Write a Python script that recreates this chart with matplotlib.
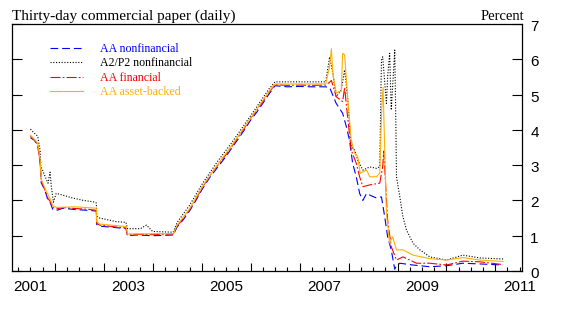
import matplotlib
matplotlib.use('Agg')
import matplotlib.pyplot as plt
import matplotlib.dates as mdates
import matplotlib.transforms as mtransforms
import pandas as pd

# values (percent)
nonfin_dates = ['2001-07-02', '2001-08-01', '2001-08-25', '2001-09-12', '2001-09-20', '2001-10-10',
                '2001-10-25', '2001-11-10', '2001-11-25', '2001-12-15', '2002-01-15', '2002-03-01',
                '2002-06-01', '2002-09-01', '2002-11-05', '2002-11-08', '2002-12-01', '2003-03-01',
                '2003-06-15', '2003-06-26', '2003-09-01', '2004-01-01', '2004-06-01', '2004-07-01',
                '2004-08-15', '2004-10-01', '2004-11-15', '2005-01-01', '2005-03-01', '2005-05-01',
                '2005-07-01', '2005-08-15', '2005-10-01', '2005-11-15', '2006-01-01', '2006-02-15',
                '2006-04-01', '2006-05-15', '2006-07-01', '2006-10-01', '2007-01-01', '2007-04-01',
                '2007-07-15', '2007-08-13', '2007-08-26', '2007-10-01', '2007-11-18', '2007-12-16',
                '2008-01-08', '2008-02-01', '2008-02-28', '2008-03-24', '2008-04-17', '2008-05-15',
                '2008-06-08', '2008-07-27', '2008-09-03', '2008-09-27', '2008-10-19', '2008-11-15',
                '2008-12-11', '2008-12-24', '2009-01-18', '2009-04-26', '2009-08-30', '2010-01-02',
                '2010-05-03', '2010-09-08', '2011-02-28']
nonfin_vals = [3.78, 3.70, 3.55, 3.05, 2.50, 2.35,
               2.20, 2.00, 1.95, 1.75, 1.72, 1.78,
               1.74, 1.72, 1.70, 1.32, 1.27, 1.24,
               1.20, 1.00, 1.02, 1.00, 1.02, 1.25,
               1.45, 1.70, 1.98, 2.30, 2.65, 2.95,
               3.25, 3.50, 3.75, 4.00, 4.28, 4.50,
               4.75, 5.00, 5.25, 5.22, 5.23, 5.22,
               5.22, 5.20, 5.08, 4.75, 4.47, 4.09,
               3.71, 3.05, 2.67, 2.20, 2.00, 2.20,
               2.15, 2.07, 2.10, 1.54, 0.97, 0.60,
               0.05, 0.15, 0.22, 0.17, 0.12, 0.15,
               0.22, 0.20, 0.17]

a2p2_dates = ['2001-07-02', '2001-08-01', '2001-08-25', '2001-09-12', '2001-09-17', '2001-10-01',
              '2001-10-20', '2001-11-10', '2001-11-25', '2001-12-05', '2001-12-20', '2002-01-10',
              '2002-03-01', '2002-05-01', '2002-08-01', '2002-10-15', '2002-11-05', '2002-11-10',
              '2002-12-01', '2003-02-01', '2003-04-01', '2003-06-15', '2003-06-26', '2003-10-01',
              '2003-11-15', '2003-12-31', '2004-06-01', '2004-07-01', '2004-10-01', '2005-01-01',
              '2005-05-01', '2005-08-15', '2005-11-15', '2006-02-15', '2006-05-15', '2006-07-01',
              '2007-07-15', '2007-08-13', '2007-09-06', '2007-10-01', '2007-11-08', '2007-12-03',
              '2007-12-25', '2008-01-21', '2008-02-16', '2008-03-10', '2008-04-17', '2008-06-08',
              '2008-07-27', '2008-08-21', '2008-09-03', '2008-09-12', '2008-10-10', '2008-10-19',
              '2008-11-03', '2008-11-15', '2008-12-11', '2008-12-20', '2008-12-24', '2009-01-18',
              '2009-02-10', '2009-03-09', '2009-04-26', '2009-06-17', '2009-08-30', '2010-01-02',
              '2010-05-03', '2010-09-08', '2011-02-28']
a2p2_vals = [4.02, 3.90, 3.82, 3.40, 2.95, 2.85,
             2.67, 2.49, 2.80, 2.38, 1.95, 2.20,
             2.15, 2.08, 2.00, 1.96, 1.93, 1.55,
             1.50, 1.45, 1.40, 1.38, 1.20, 1.20,
             1.30, 1.12, 1.10, 1.38, 1.86, 2.45,
             3.12, 3.65, 4.15, 4.65, 5.15, 5.36,
             5.36, 6.07, 5.60, 4.94, 5.13, 5.70,
             4.94, 3.52, 3.43, 3.14, 2.86, 2.95,
             2.91, 2.95, 5.98, 6.07, 4.75, 5.50,
             6.17, 4.56, 6.26, 4.00, 2.67, 2.10,
             1.54, 1.16, 0.79, 0.60, 0.40, 0.31,
             0.45, 0.37, 0.34]

fin_dates = ['2001-07-02', '2001-08-01', '2001-08-25', '2001-09-12', '2001-09-20', '2001-10-10',
             '2001-10-25', '2001-11-10', '2001-11-25', '2001-12-15', '2002-01-15', '2002-03-01',
             '2002-06-01', '2002-09-01', '2002-11-05', '2002-11-08', '2002-12-01', '2003-03-01',
             '2003-06-15', '2003-06-26', '2003-09-01', '2004-01-01', '2004-06-01', '2004-07-01',
             '2004-08-15', '2004-10-01', '2004-11-15', '2005-01-01', '2005-03-01', '2005-05-01',
             '2005-07-01', '2005-08-15', '2005-10-01', '2005-11-15', '2006-01-01', '2006-02-15',
             '2006-04-01', '2006-05-15', '2006-07-01', '2006-10-01', '2007-01-01', '2007-04-01',
             '2007-07-15', '2007-08-13', '2007-08-26', '2007-10-01', '2007-11-18', '2007-12-03',
             '2007-12-25', '2008-01-21', '2008-02-28', '2008-03-24', '2008-04-17', '2008-06-08',
             '2008-08-21', '2008-09-12', '2008-09-20', '2008-10-19', '2008-11-15', '2008-12-24',
             '2009-02-10', '2009-05-23', '2009-08-30', '2010-01-02', '2010-05-03', '2010-09-08',
             '2011-02-28']
fin_vals = [3.82, 3.72, 3.58, 3.10, 2.55, 2.38,
            2.22, 2.05, 1.98, 1.80, 1.76, 1.80,
            1.77, 1.75, 1.72, 1.35, 1.30, 1.26,
            1.22, 1.02, 1.04, 1.03, 1.05, 1.28,
            1.48, 1.74, 2.02, 2.34, 2.70, 3.00,
            3.30, 3.54, 3.80, 4.05, 4.33, 4.55,
            4.80, 5.05, 5.28, 5.26, 5.27, 5.26,
            5.27, 5.35, 5.40, 4.94, 4.80, 5.20,
            4.37, 3.43, 3.05, 2.67, 2.39, 2.44,
            2.49, 2.95, 3.40, 1.44, 0.69, 0.31,
            0.40, 0.22, 0.22, 0.17, 0.28, 0.26,
            0.18]

abs_dates = ['2001-07-02', '2001-08-25', '2001-09-12', '2001-09-20', '2001-10-25', '2001-11-25',
             '2001-12-15', '2002-01-15', '2002-06-01', '2002-11-05', '2002-11-08', '2002-12-01',
             '2003-06-15', '2003-06-26', '2004-06-01', '2004-07-01', '2004-10-01', '2005-01-01',
             '2005-05-01', '2005-08-15', '2005-11-15', '2006-02-15', '2006-05-15', '2006-07-01',
             '2007-07-15', '2007-08-13', '2007-08-26', '2007-09-06', '2007-10-01', '2007-11-08',
             '2007-11-18', '2007-12-03', '2007-12-25', '2008-01-21', '2008-02-16', '2008-03-10',
             '2008-03-28', '2008-05-15', '2008-06-08', '2008-07-27', '2008-08-21', '2008-09-05',
             '2008-09-15', '2008-10-10', '2008-11-03', '2008-11-25', '2008-12-24', '2009-02-10',
             '2009-04-26', '2009-08-30', '2010-01-02', '2010-05-03', '2010-09-08', '2011-02-28']
abs_vals = [3.85, 3.62, 3.15, 2.60, 2.28, 2.05,
            1.85, 1.80, 1.82, 1.78, 1.40, 1.33,
            1.26, 1.05, 1.06, 1.30, 1.76, 2.37,
            3.03, 3.57, 4.08, 4.58, 5.08, 5.30,
            5.30, 5.80, 6.30, 5.60, 5.05, 5.10,
            6.17, 6.12, 4.94, 3.71, 3.34, 3.24,
            2.77, 2.86, 2.67, 2.67, 2.77, 4.60,
            5.20, 1.63, 0.79, 0.97, 0.60, 0.60,
            0.45, 0.35, 0.31, 0.38, 0.31, 0.27]

year_labels = ['2001', '2003', '2005', '2007', '2009', '2011']
y_ticks = [0, 1, 2, 3, 4, 5, 6, 7]

BLUE = '#0000ff'
BLACK = '#000000'
RED = '#ff0000'
ORANGE = '#ffb000'

serif = ['Liberation Serif', 'DejaVu Serif']
sans = ['Liberation Sans', 'DejaVu Sans']

fig = plt.figure(figsize=(5.71, 3.22), dpi=100)
ax = fig.add_axes([12 / 571, 1 - 271 / 322, 510 / 571, 247 / 322])

ax.plot(pd.to_datetime(nonfin_dates), nonfin_vals, color=BLUE, lw=0.8,
        dashes=[7, 3.5], label='AA nonfinancial')
ax.plot(pd.to_datetime(a2p2_dates), a2p2_vals, color=BLACK, lw=0.8,
        dashes=[1, 1.5], label='A2/P2 nonfinancial')
ax.plot(pd.to_datetime(fin_dates), fin_vals, color=RED, lw=0.8,
        dashes=[9, 2, 1.5, 2], label='AA financial')
ax.plot(pd.to_datetime(abs_dates), abs_vals, color=ORANGE, lw=0.8,
        label='AA asset-backed')

ax.set_xlim(pd.Timestamp('2001-02-14'), pd.Timestamp('2011-07-19'))
ax.set_ylim(0, 7)

# x axis: long ticks at year starts, short quarterly ticks, labels mid-year
ax.xaxis.set_major_locator(mdates.YearLocator())
ax.xaxis.set_minor_locator(mdates.MonthLocator(bymonth=[4, 7, 10]))
ax.xaxis.set_major_formatter(plt.NullFormatter())
ax.tick_params(axis='x', which='major', direction='in', length=6, width=0.8)
ax.tick_params(axis='x', which='minor', direction='in', length=3, width=0.8)

lab_trans = mtransforms.blended_transform_factory(ax.transData, ax.transAxes)
off = mtransforms.ScaledTranslation(0, -9 / 100, fig.dpi_scale_trans)
for lab in year_labels:
    ax.text(pd.Timestamp(lab + '-07-01'), 0, lab, transform=lab_trans + off,
            ha='center', va='top', fontsize=11, family=sans)

ax.set_yticks(y_ticks)
ax.tick_params(axis='y', which='both', left=True, right=True, labelleft=False,
               labelright=True, direction='in', length=7, width=0.8, pad=6,
               labelsize=11)
for t in ax.get_yticklabels():
    t.set_family(sans)
    t.set_transform(t.get_transform() + mtransforms.ScaledTranslation(0, -1.5 / 100, fig.dpi_scale_trans))

for s in ax.spines.values():
    s.set_linewidth(0.9)

fig.text(12 / 571, 1 - 20 / 322, 'Thirty-day commercial paper (daily)', fontsize=11,
         family=serif, ha='left', va='baseline')
fig.text(524 / 571, 1 - 20 / 322, 'Percent', fontsize=10.5, family=serif,
         ha='right', va='baseline')

leg = ax.legend(loc='upper left', bbox_to_anchor=((50 - 12) / 510, (271 - 43) / 247),
                frameon=False, borderpad=0, borderaxespad=0,
                handlelength=2.8, handletextpad=1.35, labelspacing=0.2,
                prop={'family': serif, 'size': 8.6},
                labelcolor=[BLUE, BLACK, RED, ORANGE])

fig.savefig('out.png', dpi=100)
